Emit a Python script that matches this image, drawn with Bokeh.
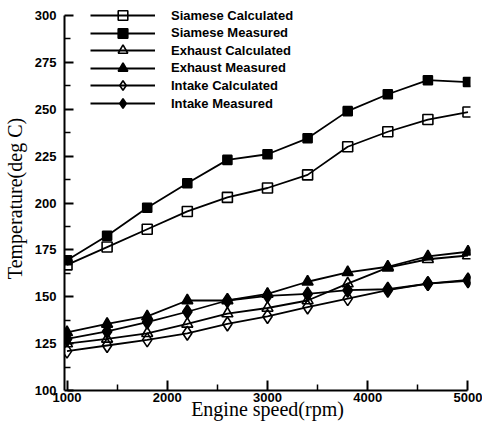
from bokeh.plotting import figure
from bokeh.models import Range1d, Legend, LegendItem, FixedTicker
from bokeh.embed import file_html
from bokeh.resources import INLINE

# ---- data ----
speed = [1000, 1400, 1800, 2200, 2600, 3000, 3400, 3800, 4200, 4600, 5000]
siamese_calc = [167, 176.5, 186, 195.5, 203, 208, 215, 230, 238, 244.5, 248.5]
siamese_meas = [169.5, 182.5, 197.5, 210.5, 223, 226, 234.5, 249, 258, 265.5, 264.5]
exhaust_calc = [125, 127.5, 130.5, 135.5, 141, 144, 148, 157, 165.5, 170, 172]
exhaust_meas = [131, 135.5, 139.5, 148, 148, 151.5, 158, 163, 166, 171.5, 174]
intake_calc = [121, 124, 127, 130.5, 135.5, 139.5, 144.5, 149, 153.5, 157, 158.5]
intake_meas = [127.5, 131.5, 136.5, 142, 148, 150.5, 151.5, 153.5, 154, 157, 159]

series_names = ["Siamese Calculated", "Siamese Measured", "Exhaust Calculated",
                "Exhaust Measured", "Intake Calculated", "Intake Measured"]
series_values = [siamese_calc, siamese_meas, exhaust_calc, exhaust_meas, intake_calc, intake_meas]

x_ticks = [1000, 2000, 3000, 4000, 5000]
x_minor = [1500, 2500, 3500, 4500]
y_ticks = [100, 125, 150, 175, 200, 225, 250, 275, 300]
y_minor = [112.5, 137.5, 162.5, 187.5, 212.5, 237.5, 262.5, 287.5]
x_title = "Engine speed(rpm)"
y_title = "Temperature(deg C)"

# ---- styles ----
markers = ["square", "square", "triangle", "triangle", "diamond", "diamond"]
filled = [False, True, False, True, False, True]
sizes = [10, 9, 11, 11, 14, 14]

p = figure(width=482, height=432, output_backend="svg", toolbar_location=None,
           x_range=Range1d(975, 5025), y_range=Range1d(100, 304.8),
           min_border_left=60, min_border_right=12, min_border_top=6, min_border_bottom=42)
p.xgrid.visible = False
p.ygrid.visible = False
p.outline_line_color = None
p.background_fill_color = "white"

p.xaxis.ticker = FixedTicker(ticks=x_ticks, minor_ticks=x_minor)
p.yaxis.ticker = FixedTicker(ticks=y_ticks, minor_ticks=y_minor)
p.xaxis.bounds = (1000, 5000)
p.yaxis.bounds = (100, 300)
for ax in (p.xaxis, p.yaxis):
    ax.axis_line_width = 2
    ax.axis_line_color = "#000000"
    ax.major_tick_in = 10
    ax.major_tick_out = 0
    ax.minor_tick_in = 6
    ax.minor_tick_out = 0
    ax.major_tick_line_width = 2
    ax.minor_tick_line_width = 1.5
    ax.major_tick_line_color = "#000000"
    ax.minor_tick_line_color = "#000000"
    ax.major_label_text_font = "Liberation Sans"
    ax.major_label_text_font_style = "bold"
    ax.major_label_text_font_size = "13px"
    ax.major_label_text_color = "#000000"
    ax.axis_label_text_font = "Liberation Serif"
    ax.axis_label_text_font_style = "normal"
    ax.axis_label_text_font_size = "20px"
    ax.axis_label_text_color = "#000000"
p.xaxis.major_label_standoff = 2
p.yaxis.major_label_standoff = 8
p.yaxis.major_tick_in = 9
p.xaxis.axis_label = x_title
p.yaxis.axis_label = y_title
p.xaxis.axis_label_standoff = -7
p.yaxis.axis_label_standoff = 6

items = []
for name, vals, m, f, s in zip(series_names, series_values, markers, filled, sizes):
    rl = p.line(speed, vals, line_color="black", line_width=1.8)
    rm = p.scatter(speed, vals, marker=m, size=s, line_color="black", line_width=1.6,
                   fill_color="black" if f else None)
    items.append(LegendItem(label=name, renderers=[rl, rm]))

# one single-row legend per series so that markers keep a readable size
row_pitch = 17.6
frame_h = 384
first_row = 9
for i, item in enumerate(items):
    center_from_top = first_row + i * row_pitch
    bottom_y = frame_h - center_from_top - 12
    lg = Legend(items=[item], location=(26, bottom_y), padding=0, margin=0, spacing=0,
                label_height=24, glyph_height=24, glyph_width=65, label_standoff=16,
                label_text_font="Liberation Sans", label_text_font_style="bold",
                label_text_font_size="13px", label_text_color="#000000",
                background_fill_alpha=0, border_line_alpha=0)
    p.add_layout(lg)

open("out.html", "w").write(file_html(p, INLINE))
